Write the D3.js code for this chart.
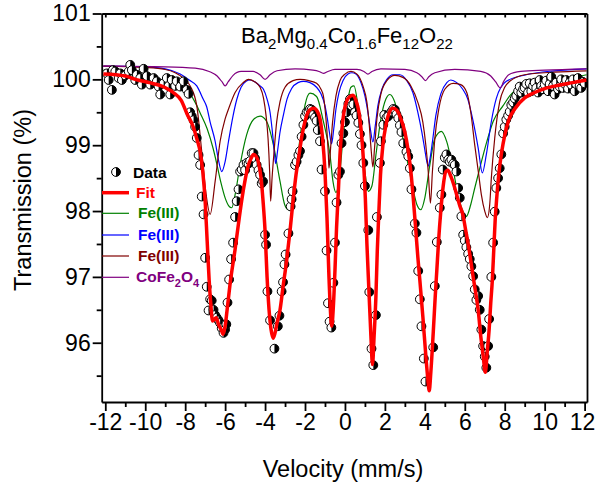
<!DOCTYPE html>
<html><head><meta charset="utf-8">
<script src="https://cdn.jsdelivr.net/npm/d3@7"></script>
<style>
body{margin:0;background:#fff}
svg{display:block}
text{font-family:Arial,"Liberation Sans",sans-serif}
</style>
</head><body>
<svg id="chart" width="596" height="486"></svg>
<script>
// ---------- DATA ----------
const xMajorTicks = [-12,-10,-8,-6,-4,-2,0,2,4,6,8,10,12];
const xMinorTicks = [-11,-9,-7,-5,-3,-1,1,3,5,7,9,11];
const xTopTicks = [-12,-11,-10,-9,-8,-7,-6,-5,-4,-3,-2,-1,0,1,2,3,4,5,6,7,8,9,10,11,12];
const yMajorTicks = [96,97,98,99,100,101];
const yMinorTicks = [95.5,96.5,97.5,98.5,99.5,100.5];

// measured spectrum [velocity mm/s, transmission %]
const measured = [
[-11.92,100.09],[-11.83,99.99],[-11.67,99.84],[-11.62,100.14],[-11.5,100.12],[-11.33,100.02],[-11.25,100.09],[-11.17,99.99],
[-11.0,100.06],[-10.83,100.12],[-10.75,100.22],[-10.67,100.14],[-10.5,99.99],[-10.42,100.07],[-10.25,100.02],[-10.17,99.92],
[-10.08,100.16],[-9.92,100.05],[-9.75,99.92],[-9.58,100.02],[-9.42,99.97],[-9.33,99.89],[-9.25,99.77],[-9.08,99.94],
[-8.92,100.02],[-8.83,99.9],[-8.75,99.77],[-8.67,99.99],[-8.5,99.9],[-8.42,99.97],[-8.25,99.89],[-8.08,99.97],
[-7.92,99.84],[-7.83,99.78],[-7.75,99.5],[-7.67,99.44],[-7.58,99.38],[-7.5,99.28],[-7.42,99.11],[-7.33,98.85],
[-7.25,98.7],[-7.17,98.22],[-7.08,97.95],[-7.0,97.29],[-6.92,96.85],[-6.83,96.49],[-6.75,96.66],[-6.67,96.64],
[-6.58,96.5],[-6.5,96.42],[-6.42,96.38],[-6.33,96.34],[-6.25,96.3],[-6.17,96.22],[-6.08,96.15],[-6.0,96.2],
[-5.94,96.28],[-5.88,96.61],[-5.8,96.96],[-5.7,97.27],[-5.6,97.52],[-5.5,97.91],[-5.42,98.15],[-5.33,98.33],
[-5.25,98.6],[-5.17,98.63],[-5.08,98.7],[-5.0,98.62],[-4.92,98.73],[-4.83,98.72],[-4.75,98.76],[-4.67,98.88],
[-4.58,98.88],[-4.5,98.8],[-4.42,98.7],[-4.33,98.62],[-4.25,98.55],[-4.17,98.42],[-4.1,98.45],[-4.0,97.64],
[-3.95,97.49],[-3.88,96.78],[-3.75,96.34],[-3.53,95.91],[-3.36,96.25],[-3.28,96.41],[-3.17,96.78],[-3.1,96.92],
[-3.03,97.19],[-2.97,97.34],[-2.83,97.66],[-2.72,98.07],[-2.67,98.18],[-2.62,98.3],[-2.5,98.7],[-2.42,98.75],
[-2.33,98.85],[-2.25,98.91],[-2.17,99.13],[-2.08,99.31],[-2.0,99.44],[-1.92,99.5],[-1.83,99.51],[-1.75,99.55],
[-1.67,99.54],[-1.58,99.46],[-1.5,99.42],[-1.42,99.37],[-1.36,99.23],[-1.25,99.06],[-1.17,98.63],[-1.0,98.3],
[-0.92,97.4],[-0.85,96.6],[-0.77,96.32],[-0.68,96.23],[-0.58,96.91],[-0.5,97.52],[-0.42,98.13],[-0.33,98.55],
[-0.25,98.6],[-0.17,99.03],[-0.08,99.18],[0.0,99.35],[0.08,99.5],[0.17,99.63],[0.25,99.7],[0.33,99.6],
[0.42,99.62],[0.5,99.5],[0.58,99.45],[0.67,99.34],[0.75,99.17],[0.83,99.0],[0.92,98.73],[1.0,98.38],
[1.17,97.71],[1.22,96.77],[1.33,95.91],[1.42,95.66],[1.55,96.42],[1.6,97.91],[1.75,98.73],[1.8,99.06],
[1.92,99.31],[1.97,99.46],[2.08,99.42],[2.17,99.44],[2.33,99.51],[2.42,99.55],[2.5,99.54],[2.58,99.47],
[2.67,99.41],[2.75,99.3],[2.83,99.2],[2.92,99.03],[3.08,98.9],[3.17,98.83],[3.25,98.65],[3.33,98.33],
[3.5,97.81],[3.58,97.67],[3.67,97.09],[3.75,96.66],[3.83,96.25],[3.95,95.76],[4.03,95.41],[4.42,95.93],
[4.5,96.86],[4.6,97.53],[4.75,98.05],[4.83,98.25],[4.9,98.63],[5.0,98.81],[5.08,98.86],[5.17,98.78],
[5.25,98.75],[5.33,98.78],[5.42,98.72],[5.5,98.7],[5.58,98.6],[5.67,98.35],[5.75,98.2],[5.83,97.92],
[5.92,97.64],[6.0,97.55],[6.08,97.45],[6.17,97.35],[6.25,97.27],[6.33,97.16],[6.42,97.01],[6.5,96.81],
[6.58,96.65],[6.67,96.71],[6.75,96.5],[6.83,96.2],[6.92,95.95],[7.0,95.79],[7.08,95.62],[7.17,95.95],
[7.22,96.36],[7.33,97.0],[7.42,97.52],[7.5,97.99],[7.58,98.35],[7.67,98.5],[7.75,98.65],[7.83,98.86],
[7.92,99.18],[8.0,99.28],[8.08,99.39],[8.17,99.45],[8.25,99.51],[8.33,99.61],[8.42,99.65],[8.5,99.71],
[8.58,99.75],[8.67,99.82],[8.75,99.89],[8.83,99.8],[8.92,99.85],[9.0,99.87],[9.08,99.93],[9.17,99.8],
[9.25,99.94],[9.33,99.82],[9.42,99.9],[9.5,99.95],[9.58,99.87],[9.67,99.8],[9.75,99.99],[9.83,99.9],
[9.92,99.85],[10.0,99.92],[10.08,99.98],[10.17,99.82],[10.25,99.93],[10.33,100.04],[10.42,99.9],[10.5,99.77],
[10.58,99.95],[10.67,99.85],[10.75,99.89],[10.83,100.0],[10.92,99.87],[11.0,99.93],[11.08,99.99],[11.17,99.86],
[11.25,99.95],[11.33,99.92],[11.42,100.0],[11.5,99.82],[11.58,99.93],[11.67,100.02],[11.75,99.9],[11.83,99.87],
[11.92,99.96],[12.0,99.94]
];

// total fit
const fitCurve = [
[-12.1,100.08],[-11,100.05],[-10.5,100.0],[-9.8,99.95],[-9.2,99.9],[-8.6,99.8],[-8.2,99.68],[-7.9,99.47],
[-7.6,99.28],[-7.4,99.08],[-7.25,98.9],[-7.12,98.6],[-7.0,98.15],[-6.9,97.55],[-6.8,96.95],[-6.72,96.6],
[-6.63,96.33],[-6.55,96.35],[-6.45,96.38],[-6.33,96.28],[-6.2,96.2],[-6.1,96.13],[-6.0,96.25],[-5.9,96.5],
[-5.75,96.9],[-5.5,97.42],[-5.3,97.88],[-5.15,98.2],[-5.0,98.47],[-4.85,98.68],[-4.7,98.8],[-4.58,98.86],
[-4.45,98.83],[-4.33,98.74],[-4.2,98.5],[-4.1,98.15],[-4.0,97.7],[-3.9,97.0],[-3.8,96.5],[-3.7,96.2],
[-3.6,96.07],[-3.5,96.15],[-3.4,96.3],[-3.25,96.5],[-3.1,96.85],[-2.92,97.25],[-2.75,97.7],[-2.6,98.15],
[-2.45,98.55],[-2.3,98.85],[-2.15,99.15],[-2.0,99.36],[-1.85,99.5],[-1.7,99.55],[-1.55,99.56],[-1.4,99.52],
[-1.25,99.4],[-1.12,99.1],[-1.0,98.6],[-0.9,97.9],[-0.8,97.0],[-0.72,96.45],[-0.66,96.25],[-0.58,96.55],
[-0.5,97.1],[-0.42,97.75],[-0.33,98.3],[-0.25,98.85],[-0.15,99.25],[-0.05,99.5],[0.1,99.68],[0.25,99.74],
[0.4,99.76],[0.55,99.68],[0.7,99.5],[0.82,99.2],[0.92,98.8],[1.02,98.2],[1.1,97.5],[1.2,96.8],
[1.3,96.1],[1.38,95.67],[1.46,96.1],[1.55,96.7],[1.62,97.4],[1.7,98.0],[1.78,98.55],[1.9,99.0],
[2.05,99.3],[2.2,99.48],[2.4,99.56],[2.6,99.53],[2.8,99.4],[3.0,99.2],[3.15,98.95],[3.3,98.6],
[3.42,98.2],[3.55,97.7],[3.65,97.3],[3.75,96.95],[3.9,96.4],[4.05,95.8],[4.15,95.45],[4.22,95.27],
[4.3,95.55],[4.42,96.15],[4.52,96.7],[4.6,97.1],[4.7,97.6],[4.8,98.0],[4.92,98.38],[5.05,98.6],
[5.15,98.62],[5.3,98.53],[5.45,98.4],[5.6,98.24],[5.75,98.08],[5.9,97.95],[6.05,97.7],[6.17,97.5],
[6.3,97.25],[6.42,97.0],[6.55,96.75],[6.67,96.5],[6.8,96.1],[6.92,95.8],[7.03,95.55],[7.12,95.85],
[7.22,96.2],[7.3,96.6],[7.38,96.95],[7.45,97.4],[7.52,97.85],[7.6,98.2],[7.7,98.55],[7.85,98.9],
[8.0,99.15],[8.2,99.38],[8.5,99.55],[9.0,99.72],[9.5,99.8],[10.0,99.86],[10.7,99.91],[11.4,99.95],[12.1,99.99]
];

// sub-spectrum: Fe(III) green
const feGreen = [
[-12.1,100.14],[-10.5,100.06],[-9.25,99.99],[-8.5,99.92],[-7.92,99.84],[-7.5,99.65],[-7.25,99.49],[-6.9,99.25],
[-6.6,98.95],[-6.42,98.72],[-6.2,98.42],[-6.0,98.2],[-5.82,98.08],[-5.67,98.05],[-5.5,98.25],[-5.25,98.7],
[-4.92,99.16],[-4.58,99.39],[-4.25,99.44],[-3.92,99.36],[-3.58,99.0],[-3.25,98.45],[-3.02,98.1],[-2.83,98.02],
[-2.65,98.15],[-2.5,98.4],[-2.25,99.11],[-2.0,99.61],[-1.75,99.79],[-1.42,99.74],[-1.08,99.36],[-0.75,98.86],
[-0.6,98.45],[-0.45,98.28],[-0.3,98.45],[-0.1,99.1],[0.1,99.6],[0.3,99.88],[0.45,99.9],[0.65,99.6],
[0.85,99.0],[1.0,98.6],[1.17,98.3],[1.35,98.38],[1.55,98.85],[1.8,99.4],[2.05,99.7],[2.25,99.77],
[2.5,99.65],[2.8,99.25],[3.1,98.8],[3.4,98.35],[3.6,98.1],[3.8,98.02],[4.0,98.2],[4.25,98.7],
[4.5,99.1],[4.83,99.21],[5.1,99.05],[5.4,98.65],[5.7,98.2],[5.9,98.0],[6.08,97.92],[6.3,98.1],
[6.5,98.35],[6.75,98.65],[7.1,99.05],[7.42,99.36],[7.92,99.6],[8.25,99.75],[8.92,99.89],[9.92,99.94],
[11,100.0],[12.1,100.07]
];

// sub-spectrum: Fe(III) blue
const feBlue = [
[-12.1,100.2],[-10,100.19],[-9,100.16],[-8.25,100.08],[-7.8,99.99],[-7.42,99.9],[-7.1,99.7],[-6.92,99.58],
[-6.75,99.35],[-6.5,99.06],[-6.35,98.8],[-6.17,98.6],[-6.0,98.75],[-5.83,99.06],[-5.6,99.45],[-5.42,99.69],
[-5.2,99.88],[-4.95,99.97],[-4.75,99.99],[-4.5,99.96],[-4.25,99.9],[-4.08,99.85],[-3.9,99.7],[-3.75,99.5],
[-3.65,99.25],[-3.55,98.95],[-3.47,98.72],[-3.38,98.9],[-3.25,99.2],[-3.08,99.46],[-2.9,99.7],[-2.67,99.86],
[-2.35,99.95],[-2.08,99.97],[-1.75,99.95],[-1.42,99.88],[-1.2,99.78],[-1.0,99.6],[-0.88,99.4],[-0.78,99.2],
[-0.67,99.02],[-0.56,99.25],[-0.45,99.55],[-0.3,99.8],[-0.1,99.98],[0.15,100.08],[0.35,100.1],[0.55,100.08],
[0.8,99.95],[1.0,99.75],[1.15,99.5],[1.27,99.25],[1.4,99.05],[1.52,99.3],[1.65,99.6],[1.85,99.85],
[2.1,100.0],[2.4,100.07],[2.75,100.07],[3.1,99.98],[3.4,99.8],[3.65,99.5],[3.85,99.2],[4.0,98.93],
[4.1,98.75],[4.17,98.68],[4.25,98.78],[4.38,99.05],[4.55,99.45],[4.8,99.78],[5.1,99.95],[5.3,99.99],
[5.6,99.95],[5.9,99.85],[6.15,99.7],[6.42,99.36],[6.67,98.96],[6.88,98.58],[7.08,98.86],[7.33,99.36],
[7.58,99.71],[8.08,99.97],[9.08,100.07],[10.5,100.13],[12.1,100.16]
];

// sub-spectrum: Fe(III) dark red
const feBrown = [
[-12.1,100.2],[-10,100.18],[-9,100.15],[-8.5,100.1],[-8.1,100.02],[-7.75,99.9],[-7.42,99.6],[-7.17,98.9],
[-6.95,98.25],[-6.75,97.95],[-6.5,98.45],[-6.25,99.06],[-6.0,99.4],[-5.83,99.55],[-5.5,99.8],[-5.1,99.95],
[-4.83,100.0],[-4.5,99.96],[-4.25,99.88],[-4.08,99.72],[-3.95,99.45],[-3.85,99.1],[-3.77,98.6],[-3.72,98.15],
[-3.65,98.5],[-3.55,98.9],[-3.42,99.35],[-3.25,99.66],[-3.0,99.88],[-2.6,99.98],[-2.25,100.0],[-1.8,99.98],
[-1.42,99.94],[-1.2,99.85],[-1.08,99.75],[-0.98,99.5],[-0.9,99.2],[-0.83,98.85],[-0.8,98.65],[-0.72,98.95],
[-0.62,99.35],[-0.45,99.75],[-0.25,99.98],[0.0,100.08],[0.3,100.12],[0.6,100.08],[0.9,99.9],[1.1,99.65],
[1.22,99.3],[1.32,98.9],[1.4,98.67],[1.48,98.95],[1.6,99.4],[1.8,99.78],[2.1,99.98],[2.5,100.06],
[2.9,100.03],[3.3,99.9],[3.65,99.65],[3.9,99.35],[4.05,99.0],[4.17,98.6],[4.28,98.12],[4.38,98.6],
[4.5,99.1],[4.7,99.55],[5.0,99.85],[5.42,99.94],[5.8,99.92],[6.1,99.8],[6.3,99.5],[6.5,99.0],
[6.7,98.55],[6.83,98.25],[7.0,98.0],[7.13,97.9],[7.25,98.1],[7.33,98.5],[7.5,99.11],[7.75,99.66],
[8.0,99.88],[8.25,99.97],[9.0,100.07],[10.5,100.11],[12.1,100.13]
];

// sub-spectrum: CoFe2O4
const coFe2O4 = [
[-12.1,100.2],[-9,100.19],[-7.5,100.17],[-6.8,100.12],[-6.4,100.05],[-6.15,99.96],[-6.0,99.9],[-5.85,99.96],
[-5.6,100.06],[-5.2,100.12],[-4.6,100.12],[-4.25,100.07],[-4.0,100.0],[-3.75,100.07],[-3.4,100.13],[-2.5,100.16],
[-1.6,100.14],[-1.3,100.12],[-1.08,100.09],[-0.85,100.12],[-0.5,100.15],[0.6,100.15],[0.95,100.12],[1.15,100.08],
[1.35,100.12],[1.8,100.16],[3.0,100.15],[3.6,100.1],[3.85,100.04],[4.03,99.98],[4.2,100.04],[4.5,100.1],
[5.5,100.15],[6.8,100.12],[7.3,100.05],[7.55,99.96],[7.78,99.87],[7.95,99.97],[8.2,100.07],[8.8,100.12],
[10,100.14],[12.1,100.16]
];

const legendLabels = ["Data","Fit","Fe(III)","Fe(III)","Fe(III)","CoFe2O4"];
const seriesColors = {fit:"#ff0000", green:"#008000", blue:"#0000ff", brown:"#800000", purple:"#800080"};

// ---------- CHART ----------
const svg = d3.select("#chart");
const x = d3.scaleLinear().domain([-12.18, 12.12]).range([101.7, 587]);
const y = d3.scaleLinear().domain([95.1, 101]).range([402, 13.5]);
const FONT = 'Arial,"Liberation Sans",sans-serif';

svg.append("defs").append("clipPath").attr("id","clip")
  .append("rect").attr("x",101.7).attr("y",13.5).attr("width",587-101.7).attr("height",402-13.5);

const plot = svg.append("g").attr("clip-path","url(#clip)");

const line = d3.line().x(d=>x(d[0])).y(d=>y(d[1])).curve(d3.curveMonotoneX);
const comps = [
  [feGreen, seriesColors.green],
  [feBlue, seriesColors.blue],
  [feBrown, seriesColors.brown],
  [coFe2O4, seriesColors.purple]
];
comps.forEach(([d,c])=>{
  plot.append("path").datum(d).attr("d",line).attr("fill","none").attr("stroke",c).attr("stroke-width",1.2);
});

// data markers (half filled circles)
const R = 4.4;
function marker(g){
  g.append("circle").attr("r",R).attr("fill","#fff").attr("stroke","#000").attr("stroke-width",1);
  g.append("path").attr("d",`M0,${-R}A${R},${R} 0 0 1 0,${R}Z`).attr("fill","#000");
}
plot.selectAll("g.pt").data(measured).enter().append("g").attr("class","pt")
  .attr("transform",d=>`translate(${x(d[0])},${y(d[1])})`).each(function(){marker(d3.select(this));});

plot.append("path").datum(fitCurve)
  .attr("d",d3.line().x(d=>x(d[0])).y(d=>y(d[1])).curve(d3.curveMonotoneX))
  .attr("fill","none").attr("stroke",seriesColors.fit).attr("stroke-width",3.5).attr("stroke-linejoin","round");

// axes
const AX_W = 1.8;
const TICK_FS = 23;
function styleAxis(g, fs){
  g.selectAll("path.domain").attr("stroke","#000").attr("stroke-width",AX_W);
  g.selectAll(".tick line").attr("stroke","#000").attr("stroke-width",AX_W);
  g.selectAll(".tick text").attr("fill","#000").style("font-family",FONT).style("font-size",fs+"px");
}
const gxb = svg.append("g").attr("transform","translate(0,402)")
  .call(d3.axisBottom(x).tickValues(xMajorTicks).tickSize(9).tickSizeOuter(0).tickPadding(3).tickFormat(d3.format("d")));
styleAxis(gxb,TICK_FS);
gxb.selectAll(".tick text").text(d=>d<0?"-"+Math.abs(d):String(d));
// keep the last label inside the picture
gxb.selectAll(".tick text").filter(d=>d===12).attr("x",-2.5);
const gxm = svg.append("g").attr("transform","translate(0,402)")
  .call(d3.axisBottom(x).tickValues(xMinorTicks).tickSize(5).tickSizeOuter(0).tickFormat(""));
styleAxis(gxm,TICK_FS); gxm.select("path.domain").remove();

const gxt = svg.append("g").attr("transform","translate(0,13.5)")
  .call(d3.axisBottom(x).tickValues(xTopTicks).tickSize(4).tickSizeOuter(0).tickFormat(""));
styleAxis(gxt,TICK_FS);

const gyl = svg.append("g").attr("transform","translate(101.7,0)")
  .call(d3.axisLeft(y).tickValues(yMajorTicks).tickSize(9).tickSizeOuter(0).tickPadding(2).tickFormat(d3.format("d")));
styleAxis(gyl,TICK_FS);
const gym = svg.append("g").attr("transform","translate(101.7,0)")
  .call(d3.axisLeft(y).tickValues(yMinorTicks).tickSize(5).tickSizeOuter(0).tickFormat(""));
styleAxis(gym,TICK_FS); gym.select("path.domain").remove();

const gyr = svg.append("g").attr("transform","translate(587,0)")
  .call(d3.axisRight(y).tickValues([]).tickSizeOuter(0));
styleAxis(gyr,TICK_FS);

// axis titles
svg.append("text").attr("x",343).attr("y",477).attr("text-anchor","middle")
  .style("font-family",FONT).style("font-size","23.5px").text("Velocity (mm/s)");
svg.append("text").attr("transform","translate(31,200) rotate(-90)").attr("text-anchor","middle")
  .style("font-family",FONT).style("font-size","23.5px").text("Transmission (%)");

// title with subscripts
const title = svg.append("text").attr("x",241).attr("y",43).style("font-family",FONT).style("font-size","22px");
const titleParts = [["Ba",0],["2",1],["Mg",0],["0.4",1],["Co",0],["1.6",1],["Fe",0],["12",1],["O",0],["22",1]];
let prevSub = false;
titleParts.forEach(([t,s])=>{
  const ts = title.append("tspan").text(t);
  if(s){ ts.style("font-size","15px").attr("dy", prevSub?0:6); prevSub=true; }
  else { if(prevSub) ts.attr("dy",-6); prevSub=false; }
});

// legend
const lg = svg.append("g");
const lx0 = 102, lx1 = 129;
const dm = lg.append("g").attr("transform","translate(116,172)"); marker(dm);
lg.append("text").attr("x",133).attr("y",177.5).attr("fill","#000").style("font-weight","bold")
  .style("font-family",FONT).style("font-size","15.5px").text(legendLabels[0]);
const legRows = [
  {y:192.7, c:seriesColors.fit, w:3.5, tx:136, label:legendLabels[1]},
  {y:213.3, c:seriesColors.green, w:1.2, tx:138, label:legendLabels[2]},
  {y:235, c:seriesColors.blue, w:1.2, tx:138, label:legendLabels[3]},
  {y:256, c:seriesColors.brown, w:1.2, tx:138, label:legendLabels[4]},
  {y:277.3, c:seriesColors.purple, w:1.2, tx:136, label:legendLabels[5]}
];
legRows.forEach((r,i)=>{
  lg.append("line").attr("x1",lx0).attr("x2",lx1).attr("y1",r.y).attr("y2",r.y).attr("stroke",r.c).attr("stroke-width",r.w);
  const t = lg.append("text").attr("x",r.tx).attr("y",r.y+5).attr("fill",r.c).style("font-weight","bold")
    .style("font-family",FONT).style("font-size","15.5px");
  if(r.label==="CoFe2O4"){
    t.append("tspan").text("CoFe");
    t.append("tspan").text("2").attr("dy",5).style("font-size","11px");
    t.append("tspan").text("O").attr("dy",-5);
    t.append("tspan").text("4").attr("dy",5).style("font-size","11px");
  } else t.text(r.label);
});
</script>
</body></html>
